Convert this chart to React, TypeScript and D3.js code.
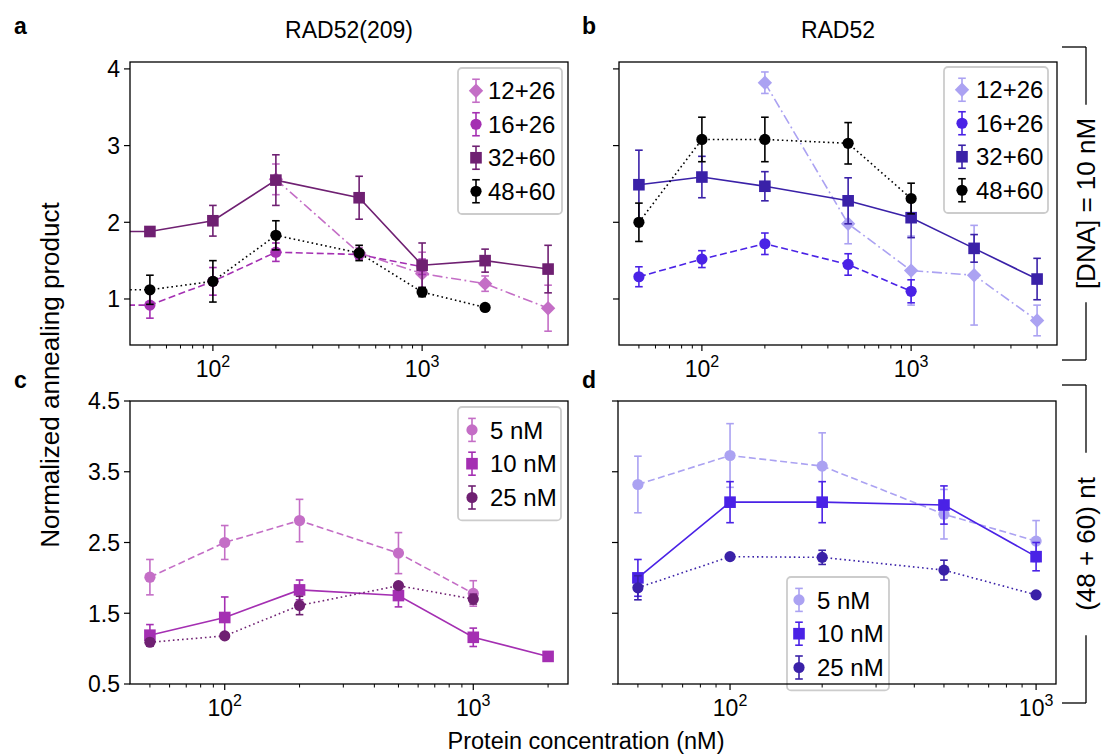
import React from "react";
import * as d3 from "d3";

const FONT = '"Liberation Sans", Arial, Helvetica, sans-serif';

// ---------- Panel a: RAD52(209), [DNA] = 10 nM (0 = reference point left of axis) ----------
const a12_26_conc = [200, 500, 1000, 2000, 4000];
const a12_26_val = [2.56, 1.6, 1.33, 1.2, 0.88];
const a12_26_err = [0.2, 0.07, 0.28, 0.1, 0.3];

const a16_26_conc = [0, 50, 100, 200, 500, 1000];
const a16_26_val = [0.92, 0.92, 1.23, 1.61, 1.58, 1.42];
const a16_26_err = [0, 0.17, 0.18, 0.12, 0.06, 0.1];

const a32_60_conc = [0, 50, 100, 200, 500, 1000, 2000, 4000];
const a32_60_val = [1.88, 1.88, 2.02, 2.55, 2.32, 1.44, 1.5, 1.39];
const a32_60_err = [0, 0.03, 0.2, 0.33, 0.28, 0.29, 0.15, 0.31];

const a48_60_conc = [0, 50, 100, 200, 500, 1000, 2000];
const a48_60_val = [1.12, 1.12, 1.23, 1.83, 1.6, 1.09, 0.89];
const a48_60_err = [0, 0.19, 0.27, 0.19, 0.1, 0.06, 0];

// ---------- Panel b: RAD52, [DNA] = 10 nM ----------
const b12_26_conc = [200, 500, 1000, 2000, 4000];
const b12_26_val = [3.82, 1.98, 1.37, 1.31, 0.72];
const b12_26_err = [0.14, 0.26, 0.45, 0.65, 0.2];

const b16_26_conc = [50, 100, 200, 500, 1000];
const b16_26_val = [1.29, 1.52, 1.72, 1.45, 1.1];
const b16_26_err = [0.13, 0.11, 0.14, 0.14, 0.15];

const b32_60_conc = [50, 100, 200, 500, 1000, 2000, 4000];
const b32_60_val = [2.49, 2.59, 2.47, 2.28, 2.06, 1.66, 1.26];
const b32_60_err = [0.45, 0.27, 0.19, 0.3, 0.26, 0.18, 0.27];

const b48_60_conc = [50, 100, 200, 500, 1000];
const b48_60_val = [2.0, 3.08, 3.08, 3.03, 2.31];
const b48_60_err = [0.25, 0.29, 0.29, 0.27, 0.2];

// ---------- Panel c: RAD52(209), (48 + 60) nt ----------
const c5_conc = [50, 100, 200, 500, 1000];
const c5_val = [2.01, 2.5, 2.81, 2.35, 1.78];
const c5_err = [0.25, 0.24, 0.3, 0.29, 0.18];

const c10_conc = [50, 100, 200, 500, 1000, 2000];
const c10_val = [1.19, 1.44, 1.83, 1.75, 1.16, 0.89];
const c10_err = [0.15, 0.29, 0.14, 0.16, 0.13, 0];

const c25_conc = [50, 100, 200, 500, 1000];
const c25_val = [1.09, 1.18, 1.61, 1.89, 1.7];
const c25_err = [0.05, 0.04, 0.13, 0.04, 0.07];

// ---------- Panel d: RAD52, (48 + 60) nt ----------
const d5_conc = [50, 100, 200, 500, 1000];
const d5_val = [3.32, 3.73, 3.58, 2.9, 2.52];
const d5_err = [0.4, 0.45, 0.47, 0.35, 0.29];

const d10_conc = [50, 100, 200, 500, 1000];
const d10_val = [2.0, 3.07, 3.07, 3.03, 2.3];
const d10_err = [0.26, 0.29, 0.29, 0.27, 0.2];

const d25_conc = [50, 100, 200, 500, 1000];
const d25_val = [1.86, 2.3, 2.29, 2.11, 1.76];
const d25_err = [0.17, 0.03, 0.1, 0.14, 0.03];

// ---------- labels & ticks ----------
const panelTitles = ["RAD52(209)", "RAD52"];
const panelLetters = ["a", "b", "c", "d"];
const substrateLabels = ["12+26", "16+26", "32+60", "48+60"];
const dnaLabels = ["5 nM", "10 nM", "25 nM"];
const yTicksTop = [1, 2, 3, 4];
const yTicksBottom = [0.5, 1.5, 2.5, 3.5, 4.5];
const yDomainTop: [number, number] = [0.4, 4.09];
const yDomainBottom: [number, number] = [0.5, 4.5];
const xLabel = "Protein concentration (nM)";
const yLabel = "Normalized annealing product";
const bracketLabels = ["[DNA] = 10 nM", "(48 + 60) nt"];

// colours
const PURPLE_LIGHT = "#c46ec6";
const PURPLE_MID = "#a42fb2";
const PURPLE_DARK = "#6f2072";
const BLUE_LIGHT = "#aba2f2";
const BLUE_MID = "#4a22e6";
const BLUE_DARK = "#3a21a8";

type Marker = "circle" | "square" | "diamond";
type Series = {
  label: string;
  color: string;
  marker: Marker;
  dash: string;
  conc: number[];
  val: number[];
  err: number[];
};

const DASHED = "7,3.5";
const DOTTED = "1.6,3";
const DASHDOT = "10,3.5,1.8,3.5";
const SOLID = "none";

const seriesA: Series[] = [
  { label: substrateLabels[0], color: PURPLE_LIGHT, marker: "diamond", dash: DASHDOT, conc: a12_26_conc, val: a12_26_val, err: a12_26_err },
  { label: substrateLabels[1], color: PURPLE_MID, marker: "circle", dash: DASHED, conc: a16_26_conc, val: a16_26_val, err: a16_26_err },
  { label: substrateLabels[2], color: PURPLE_DARK, marker: "square", dash: SOLID, conc: a32_60_conc, val: a32_60_val, err: a32_60_err },
  { label: substrateLabels[3], color: "#000000", marker: "circle", dash: DOTTED, conc: a48_60_conc, val: a48_60_val, err: a48_60_err },
];
const seriesB: Series[] = [
  { label: substrateLabels[0], color: BLUE_LIGHT, marker: "diamond", dash: DASHDOT, conc: b12_26_conc, val: b12_26_val, err: b12_26_err },
  { label: substrateLabels[1], color: BLUE_MID, marker: "circle", dash: DASHED, conc: b16_26_conc, val: b16_26_val, err: b16_26_err },
  { label: substrateLabels[2], color: BLUE_DARK, marker: "square", dash: SOLID, conc: b32_60_conc, val: b32_60_val, err: b32_60_err },
  { label: substrateLabels[3], color: "#000000", marker: "circle", dash: DOTTED, conc: b48_60_conc, val: b48_60_val, err: b48_60_err },
];
const seriesC: Series[] = [
  { label: dnaLabels[0], color: PURPLE_LIGHT, marker: "circle", dash: DASHED, conc: c5_conc, val: c5_val, err: c5_err },
  { label: dnaLabels[1], color: PURPLE_MID, marker: "square", dash: SOLID, conc: c10_conc, val: c10_val, err: c10_err },
  { label: dnaLabels[2], color: PURPLE_DARK, marker: "circle", dash: DOTTED, conc: c25_conc, val: c25_val, err: c25_err },
];
const seriesD: Series[] = [
  { label: dnaLabels[0], color: BLUE_LIGHT, marker: "circle", dash: DASHED, conc: d5_conc, val: d5_val, err: d5_err },
  { label: dnaLabels[1], color: BLUE_MID, marker: "square", dash: SOLID, conc: d10_conc, val: d10_val, err: d10_err },
  { label: dnaLabels[2], color: BLUE_DARK, marker: "circle", dash: DOTTED, conc: d25_conc, val: d25_val, err: d25_err },
];

const TICK_FS = 23;
const SUP_FS = 16;
const LEGEND_FS = 24;

function MarkerShape({ kind, x, y, color }: { kind: Marker; x: number; y: number; color: string }) {
  if (kind === "circle") return <circle cx={x} cy={y} r={5.6} fill={color} />;
  if (kind === "square") return <rect x={x - 5.8} y={y - 5.8} width={11.6} height={11.6} fill={color} />;
  const r = 7.2;
  return <path d={`M${x},${y - r}L${x + r},${y}L${x},${y + r}L${x - r},${y}Z`} fill={color} />;
}

function ErrBar({ x, y1, y2, color }: { x: number; y1: number; y2: number; color: string }) {
  const cap = 3.8;
  return (
    <g stroke={color} strokeWidth={1.6}>
      <line x1={x} x2={x} y1={y1} y2={y2} />
      <line x1={x - cap} x2={x + cap} y1={y1} y2={y1} />
      <line x1={x - cap} x2={x + cap} y1={y2} y2={y2} />
    </g>
  );
}

type PanelProps = {
  id: string;
  left: number;
  top: number;
  width: number;
  height: number;
  series: Series[];
  yDomain: [number, number];
  yTicks: number[];
  showYLabels: boolean;
  legend: { x: number; y: number; w: number; rowH: number; handleX: number; textX: number };
};

function Panel({ id, left, top, width, height, series, yDomain, yTicks, showYLabels, legend }: PanelProps) {
  const positive = series.flatMap((s) => s.conc).filter((c) => c > 0);
  const [lo, hi] = d3.extent(positive) as [number, number];
  const lLo = Math.log10(lo);
  const lHi = Math.log10(hi);
  const pad = (lHi - lLo) * 0.05;
  const xs = d3.scaleLog().domain([10 ** (lLo - pad), 10 ** (lHi + pad)]).range([0, width]);
  const ys = d3.scaleLinear().domain(yDomain).range([height, 0]);
  const px = (c: number) => (c > 0 ? xs(c) : -5000);

  const allTicks = xs.ticks();
  const major = allTicks.filter((t) => Math.abs(Math.log10(t) - Math.round(Math.log10(t))) < 1e-9);
  const minor = allTicks.filter((t) => !major.includes(t));

  const fmtY = (v: number) => (Number.isInteger(v) ? String(v) : v.toFixed(1));

  const legendH = legend.rowH * series.length + 12;

  return (
    <g transform={`translate(${left},${top})`}>
      <defs>
        <clipPath id={`clip-${id}`}>
          <rect x={0} y={0} width={width} height={height} />
        </clipPath>
      </defs>
      <g clipPath={`url(#clip-${id})`}>
        {series.map((s, si) => {
          const pts = s.conc.map((c, i) => [c, s.val[i]] as [number, number]);
          const path = d3
            .line<[number, number]>()
            .x((d) => px(d[0]))
            .y((d) => ys(d[1]))(pts);
          return (
            <g key={si}>
              <path d={path || ""} fill="none" stroke={s.color} strokeWidth={1.6} strokeDasharray={s.dash} />
              {pts.map((d, i) =>
                d[0] > 0 && s.err[i] > 0 ? (
                  <ErrBar key={"e" + i} x={px(d[0])} y1={ys(d[1] - s.err[i])} y2={ys(d[1] + s.err[i])} color={s.color} />
                ) : null
              )}
              {pts.map((d, i) =>
                d[0] > 0 ? <MarkerShape key={"m" + i} kind={s.marker} x={px(d[0])} y={ys(d[1])} color={s.color} /> : null
              )}
            </g>
          );
        })}
      </g>
      {/* legend */}
      <g>
        <rect
          x={legend.x}
          y={legend.y}
          width={legend.w}
          height={legendH}
          rx={4}
          fill="#ffffff"
          fillOpacity={0.85}
          stroke="#cccccc"
          strokeWidth={1.8}
        />
        {series.map((s, i) => {
          const cy = legend.y + 6 + legend.rowH * (i + 0.5);
          return (
            <g key={i}>
              <ErrBar x={legend.handleX} y1={cy - 11.5} y2={cy + 11.5} color={s.color} />
              <MarkerShape kind={s.marker} x={legend.handleX} y={cy} color={s.color} />
              <text x={legend.textX} y={cy} dy="0.36em" fontSize={LEGEND_FS} fontFamily={FONT} fill="#000">
                {s.label}
              </text>
            </g>
          );
        })}
      </g>
      {/* frame */}
      <rect x={0} y={0} width={width} height={height} fill="none" stroke="#000" strokeWidth={1.3} />
      {/* y ticks */}
      {yTicks.map((t) => (
        <g key={t} transform={`translate(0,${ys(t)})`}>
          <line x1={-6} x2={0} stroke="#000" strokeWidth={1.2} />
          {showYLabels && (
            <text x={-10} dy="0.36em" textAnchor="end" fontSize={TICK_FS} fontFamily={FONT}>
              {fmtY(t)}
            </text>
          )}
        </g>
      ))}
      {/* x ticks */}
      {minor.map((t) => (
        <line key={"mn" + t} x1={xs(t)} x2={xs(t)} y1={height} y2={height + 3.5} stroke="#000" strokeWidth={1} />
      ))}
      {major.map((t) => (
        <g key={"mj" + t} transform={`translate(${xs(t)},${height})`}>
          <line y1={0} y2={6} stroke="#000" strokeWidth={1.2} />
          <text y={32} textAnchor="middle" fontSize={TICK_FS} fontFamily={FONT}>
            <tspan>10</tspan>
            <tspan dy={-10} fontSize={SUP_FS}>
              {Math.round(Math.log10(t))}
            </tspan>
          </text>
        </g>
      ))}
    </g>
  );
}

function Bracket({ x, y1, y2, label, fs }: { x: number; y1: number; y2: number; label: string; fs: number }) {
  const mid = (y1 + y2) / 2;
  const half = label.length * fs * 0.28;
  return (
    <g stroke="#000" strokeWidth={1.3} fill="none">
      <line x1={x - 24} x2={x} y1={y1} y2={y1} />
      <line x1={x} x2={x} y1={y1} y2={mid - half - 4} />
      <line x1={x} x2={x} y1={mid + half + 4} y2={y2} />
      <line x1={x - 24} x2={x} y1={y2} y2={y2} />
      <text
        x={0}
        y={0}
        transform={`translate(${x},${mid}) rotate(-90)`}
        textAnchor="middle"
        dy="0.36em"
        fontSize={fs}
        fontFamily={FONT}
        fill="#000"
        stroke="none"
      >
        {label}
      </text>
    </g>
  );
}

export default function App() {
  const W = 1102;
  const H = 755;
  const pw = 438;
  const ph = 283;
  return (
    <svg width={W} height={H} style={{ position: "absolute", left: 0, top: 0, background: "#fff" }}>
      <rect width={W} height={H} fill="#fff" />
      <Panel
        id="a"
        left={130}
        top={62}
        width={pw}
        height={ph}
        series={seriesA}
        yDomain={yDomainTop}
        yTicks={yTicksTop}
        showYLabels={true}
        legend={{ x: 328, y: 6, w: 104, rowH: 33.5, handleX: 346, textX: 358 }}
      />
      <Panel
        id="b"
        left={619}
        top={62}
        width={pw}
        height={ph}
        series={seriesB}
        yDomain={yDomainTop}
        yTicks={yTicksTop}
        showYLabels={false}
        legend={{ x: 325, y: 5, w: 104, rowH: 33.5, handleX: 343, textX: 357 }}
      />
      <Panel
        id="c"
        left={130}
        top={401}
        width={pw}
        height={ph}
        series={seriesC}
        yDomain={yDomainBottom}
        yTicks={yTicksBottom}
        showYLabels={true}
        legend={{ x: 328, y: 6, w: 103, rowH: 33.8, handleX: 342, textX: 360 }}
      />
      <Panel
        id="d"
        left={618}
        top={401}
        width={pw}
        height={ph}
        series={seriesD}
        yDomain={yDomainBottom}
        yTicks={yTicksBottom}
        showYLabels={false}
        legend={{ x: 169, y: 176, w: 102, rowH: 33.8, handleX: 181, textX: 199 }}
      />
      {/* titles */}
      <text x={349} y={38} textAnchor="middle" fontSize={23} fontFamily={FONT}>
        {panelTitles[0]}
      </text>
      <text x={838} y={38} textAnchor="middle" fontSize={23} fontFamily={FONT}>
        {panelTitles[1]}
      </text>
      {/* panel letters */}
      {[
        [14, 34],
        [582, 34],
        [14, 388],
        [582, 388],
      ].map(([x, y], i) => (
        <text key={i} x={x} y={y} fontSize={23} fontWeight="bold" fontFamily={FONT}>
          {panelLetters[i]}
        </text>
      ))}
      {/* axis labels */}
      <text x={586} y={749} textAnchor="middle" fontSize={23.5} fontFamily={FONT}>
        {xLabel}
      </text>
      <text transform="translate(50,375) rotate(-90)" textAnchor="middle" dy="0.36em" fontSize={26} fontFamily={FONT}>
        {yLabel}
      </text>
      <Bracket x={1086} y1={47} y2={360} label={bracketLabels[0]} fs={26} />
      <Bracket x={1086} y1={385} y2={703} label={bracketLabels[1]} fs={26} />
    </svg>
  );
}
